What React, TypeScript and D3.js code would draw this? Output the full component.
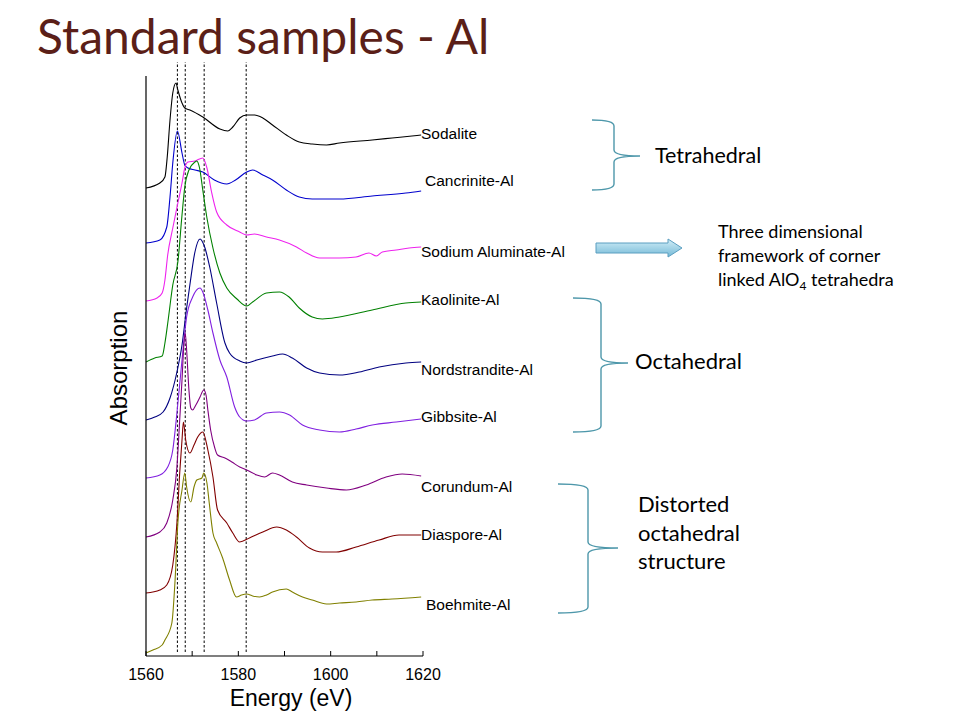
import * as d3 from "d3";

const W = 960;
const H = 720;

// energy axis (eV)
const energyDomain: [number, number] = [1560, 1620];
const energyTicks = [1560, 1570, 1580, 1590, 1600, 1610, 1620];
const energyLabels = [1560, 1580, 1600, 1620];
// dashed reference energies
const refEnergies = [1566.8, 1568.5, 1572.6, 1581.7];
const refExtent: [number, number] = [0.08, 11.88];

// normalised absorption, relative to each spectrum's pre-edge
const sodalite: [number, number][] = [
  [1560, 0], [1563.0, 0.1], [1564.1, 0.22], [1564.6, 0.62], [1565.2, 1.36], [1565.8, 1.9],
  [1566.5, 2.1], [1566.9, 1.96], [1567.8, 1.7], [1568.4, 1.6], [1569.5, 1.56], [1572.3, 1.42],
  [1576.0, 1.18], [1577.7, 1.14], [1578.8, 1.22], [1580.3, 1.4], [1581.8, 1.46], [1583.5, 1.46],
  [1585.3, 1.4], [1587.4, 1.26], [1590.4, 1.06], [1593.2, 0.92], [1596.0, 0.88], [1599.1, 0.86],
  [1601.9, 0.9], [1609.0, 0.96], [1613.3, 1.0], [1617.6, 1.04], [1619.6, 1.06],
];
const cancrinite: [number, number][] = [
  [1560, 0], [1563.0, 0.06], [1564.5, 0.32], [1565.2, 0.92], [1565.8, 1.6], [1566.8, 2.24],
  [1567.8, 1.8], [1568.4, 1.56], [1569.1, 1.5], [1570.6, 1.46], [1572.3, 1.42], [1574.8, 1.26],
  [1577.5, 1.18], [1579.4, 1.26], [1581.8, 1.42], [1583.1, 1.46], [1585.3, 1.36], [1587.4, 1.26],
  [1590.4, 1.06], [1593.2, 0.92], [1596.0, 0.88], [1601.9, 0.88], [1609.0, 0.94], [1616.3, 1.0],
  [1619.6, 1.04],
];
const sodiumAluminate: [number, number][] = [
  [1560, 0], [1562.4, 0.06], [1563.5, 0.16], [1564.1, 0.42], [1564.7, 0.92], [1565.8, 1.46],
  [1566.9, 1.96], [1567.8, 2.36], [1568.4, 2.66], [1569.1, 2.78], [1570.6, 2.8], [1572.3, 2.86],
  [1573.2, 2.66], [1574.2, 2.18], [1575.3, 1.78], [1577.5, 1.52], [1580.3, 1.38], [1581.8, 1.32],
  [1583.5, 1.34], [1586.1, 1.28], [1588.9, 1.22], [1592.6, 1.08], [1594.8, 0.96], [1597.6, 0.86],
  [1601.9, 0.86], [1605.5, 0.88], [1608.3, 0.96], [1609.9, 0.9], [1611.2, 0.98], [1614.2, 1.02],
  [1617.0, 1.06], [1619.6, 1.08],
];
const kaolinite: [number, number][] = [
  [1560, 0], [1561.9, 0.08], [1563.5, 0.12], [1564.1, 0.38], [1564.8, 0.84], [1565.8, 1.54],
  [1566.9, 2.0], [1567.8, 2.94], [1568.4, 3.5], [1569.3, 3.84], [1570.6, 4.0], [1571.0, 4.02],
  [1571.6, 3.88], [1572.3, 3.44], [1573.2, 2.88], [1574.5, 2.28], [1576.0, 1.78], [1577.5, 1.48],
  [1579.7, 1.26], [1581.8, 1.12], [1583.1, 1.2], [1586.1, 1.38], [1588.9, 1.4], [1591.0, 1.3],
  [1593.2, 1.08], [1596.0, 0.9], [1598.2, 0.86], [1601.9, 0.9], [1609.0, 1.04], [1616.3, 1.18],
  [1619.6, 1.2],
];
const nordstrandite: [number, number][] = [
  [1560, 0], [1561.9, 0.06], [1563.7, 0.16], [1565.2, 0.44], [1566.7, 0.96], [1567.8, 1.5],
  [1568.8, 2.24], [1569.5, 2.7], [1570.6, 3.36], [1571.7, 3.62], [1572.7, 3.46], [1573.8, 3.06],
  [1575.3, 2.34], [1577.1, 1.54], [1578.1, 1.34], [1580.3, 1.18], [1581.8, 1.14], [1584.0, 1.2],
  [1587.4, 1.28], [1589.6, 1.32], [1591.7, 1.24], [1594.8, 1.04], [1597.6, 0.94], [1601.9, 0.9],
  [1606.2, 0.96], [1610.5, 1.06], [1616.3, 1.14], [1619.6, 1.16],
];
const gibbsite: [number, number][] = [
  [1560, 0], [1563.0, 0.06], [1564.7, 0.22], [1565.8, 0.56], [1566.7, 1.3], [1567.8, 2.36],
  [1568.8, 3.22], [1570.1, 3.62], [1571.7, 3.8], [1572.3, 3.72], [1573.4, 3.36], [1574.5, 2.9],
  [1576.0, 2.36], [1577.5, 2.02], [1579.2, 1.42], [1580.3, 1.22], [1581.8, 1.14], [1583.5, 1.16],
  [1586.1, 1.3], [1588.9, 1.32], [1591.1, 1.26], [1593.9, 1.06], [1597.6, 0.96], [1601.9, 0.92],
  [1605.5, 0.98], [1609.0, 1.06], [1614.2, 1.12], [1619.6, 1.18],
];
const corundum: [number, number][] = [
  [1560, 0], [1563.0, 0.1], [1564.5, 0.28], [1565.8, 0.74], [1566.7, 1.4], [1567.3, 2.34],
  [1567.8, 3.14], [1568.2, 3.84], [1568.5, 4.08], [1568.8, 3.74], [1569.3, 2.94], [1569.7, 2.58],
  [1570.1, 2.54], [1570.8, 2.64], [1571.7, 2.8], [1572.5, 2.94], [1573.0, 2.84], [1573.4, 2.54],
  [1574.0, 2.14], [1574.9, 1.78], [1575.5, 1.64], [1577.1, 1.58], [1578.6, 1.5], [1580.3, 1.4],
  [1581.8, 1.34], [1584.0, 1.24], [1585.7, 1.2], [1587.4, 1.28], [1588.9, 1.24], [1591.7, 1.1],
  [1594.8, 1.04], [1599.1, 0.98], [1603.4, 0.94], [1607.7, 1.04], [1612.0, 1.2], [1615.5, 1.26],
  [1619.6, 1.22],
];
const diaspore: [number, number][] = [
  [1560, 0], [1563.0, 0.06], [1564.5, 0.16], [1565.8, 0.56], [1566.7, 1.4], [1567.3, 2.4],
  [1567.8, 3.06], [1568.1, 3.42], [1568.6, 3.06], [1569.5, 2.8], [1570.4, 2.96], [1571.2, 3.12],
  [1572.3, 3.22], [1573.4, 2.86], [1574.5, 2.32], [1575.5, 1.66], [1577.5, 1.4], [1578.8, 1.2],
  [1580.3, 1.02], [1582.4, 1.1], [1585.3, 1.22], [1588.3, 1.32], [1590.4, 1.26], [1592.6, 1.12],
  [1595.4, 0.9], [1598.2, 0.82], [1601.2, 0.82], [1605.5, 0.92], [1610.5, 1.06], [1614.8, 1.16],
  [1619.6, 1.16],
];
const boehmite: [number, number][] = [
  [1560, 0], [1561.5, 0.06], [1563.5, 0.16], [1564.1, 0.26], [1565.6, 0.6], [1566.3, 1.46],
  [1566.9, 2.6], [1567.8, 3.26], [1568.4, 3.6], [1568.8, 3.32], [1569.7, 3.02], [1570.4, 3.32],
  [1571.0, 3.46], [1572.1, 3.5], [1572.5, 3.6], [1573.2, 3.4], [1573.7, 3.0], [1574.5, 2.4],
  [1575.3, 2.2], [1576.6, 1.9], [1578.1, 1.46], [1579.6, 1.12], [1580.7, 1.16], [1581.8, 1.18],
  [1583.1, 1.14], [1584.6, 1.12], [1586.1, 1.16], [1587.4, 1.22], [1590.4, 1.28], [1591.7, 1.22],
  [1593.9, 1.12], [1596.0, 1.06], [1599.1, 0.98], [1601.9, 1.0], [1605.5, 1.02], [1609.0, 1.06],
  [1613.3, 1.08], [1619.6, 1.12],
];

const spectra = [sodalite, cancrinite, sodiumAluminate, kaolinite, nordstrandite, gibbsite, corundum, diaspore, boehmite];
const names = [
  "Sodalite", "Cancrinite-Al", "Sodium Aluminate-Al", "Kaolinite-Al", "Nordstrandite-Al",
  "Gibbsite-Al", "Corundum-Al", "Diaspore-Al", "Boehmite-Al",
];
const colors = ["#000000", "#0000cd", "#ee22ee", "#008000", "#000080", "#8020e0", "#800080", "#800000", "#808000"];
// vertical stacking offsets
const offsets = [9.36, 8.26, 7.1, 5.88, 4.72, 3.56, 2.38, 1.26, 0.06];
// label nudges (px) from each curve's last point
const labelDx = [-2, 2, -2, -2, -2, -2, -2, -2, 3];
const labelDy = [4, -5, 10, 3, 13, 3, 16, 5, 13];

const bracketColor = "#4d97aa";

function brace(x0: number, xv: number, top: number, bottom: number, mid: number, tip: number) {
  const r = 6;
  return `M${x0},${top} Q${xv},${top} ${xv},${top + r} L${xv},${mid - r} Q${xv},${mid} ${tip},${mid}` +
    ` Q${xv},${mid} ${xv},${mid + r} L${xv},${bottom - r} Q${xv},${bottom} ${x0},${bottom}`;
}

export default function App() {
  const x = d3.scaleLinear().domain(energyDomain).range([146, 423]);
  const y = d3.scaleLinear().domain([0, 11.6]).range([656, 76]);
  const line = d3
    .line<[number, number]>()
    .x((d) => x(d[0]))
    .y((d) => y(d[1]))
    .curve(d3.curveMonotoneX);

  const sans = "'Liberation Sans', Arial, sans-serif";
  const gill = "Lato, 'Open Sans', sans-serif";

  return (
    <div style={{ position: "absolute", left: 0, top: 0 }}>
      <svg width={W} height={H} style={{ display: "block", background: "#fff" }}>
        <defs>
          <linearGradient id="arrowFill" x1="0" y1="0" x2="0" y2="1">
            <stop offset="0%" stopColor="#d2eef8" />
            <stop offset="100%" stopColor="#74b9d6" />
          </linearGradient>
        </defs>

        <text x={37} y={54} fontFamily={gill} fontSize={48} fill="#5b1f18">
          Standard samples - Al
        </text>

        {/* reference lines */}
        {refEnergies.map((e) => (
          <line
            key={e}
            x1={x(e)}
            x2={x(e)}
            y1={y(refExtent[0])}
            y2={y(refExtent[1])}
            stroke="#000"
            strokeWidth={1}
            strokeDasharray="2.5,2"
          />
        ))}

        {/* spectra */}
        {spectra.map((s, i) => {
          const pts = s.map((d) => [d[0], d[1] + offsets[i]] as [number, number]);
          const last = pts[pts.length - 1];
          return (
            <g key={names[i]}>
              <path d={line(pts) || ""} fill="none" stroke={colors[i]} strokeWidth={1.1} />
              <text
                x={x(energyDomain[1]) + labelDx[i]}
                y={y(last[1]) + labelDy[i]}
                fontFamily={sans}
                fontSize={15.5}
                fill="#000"
              >
                {names[i]}
              </text>
            </g>
          );
        })}

        {/* axes */}
        <line x1={x(energyDomain[0])} x2={x(energyDomain[0])} y1={y(0)} y2={y(11.6)} stroke="#000" strokeWidth={1.2} />
        <line x1={x(energyDomain[0])} x2={x(energyDomain[1])} y1={y(0)} y2={y(0)} stroke="#000" strokeWidth={1.2} />
        {energyTicks.map((t) => (
          <line key={t} x1={x(t)} x2={x(t)} y1={y(0)} y2={y(0) - 5} stroke="#000" strokeWidth={1} />
        ))}
        {energyLabels.map((t) => (
          <text key={t} x={x(t)} y={680} textAnchor="middle" fontFamily={sans} fontSize={16} fill="#000">
            {t}
          </text>
        ))}
        <text x={291} y={706} textAnchor="middle" fontFamily={sans} fontSize={23} fill="#000">
          Energy (eV)
        </text>
        <text
          transform="translate(127,368) rotate(-90)"
          textAnchor="middle"
          fontFamily={sans}
          fontSize={24}
          fill="#000"
        >
          Absorption
        </text>

        {/* annotations */}
        <path d={brace(592, 614, 120, 190, 156, 640)} fill="none" stroke={bracketColor} strokeWidth={1.4} />
        <text x={655} y={163} fontFamily={gill} fontSize={21.5} fill="#000">Tetrahedral</text>

        <path
          d="M596,243 L668,243 L668,239 L682,248 L668,257 L668,253 L596,253 Z"
          fill="url(#arrowFill)"
          stroke="#5b9ec0"
          strokeWidth={1}
        />
        <text x={718} y={238} fontFamily={gill} fontSize={18} fill="#000">Three dimensional</text>
        <text x={718} y={262} fontFamily={gill} fontSize={18} fill="#000">framework of corner</text>
        <text x={718} y={286} fontFamily={gill} fontSize={18} fill="#000">
          linked AlO<tspan fontSize={12} dy={4}>4</tspan>
          <tspan dy={-4}> tetrahedra</tspan>
        </text>

        <path d={brace(573, 601, 298, 432, 363, 628)} fill="none" stroke={bracketColor} strokeWidth={1.4} />
        <text x={635} y={369} fontFamily={gill} fontSize={22} fill="#000">Octahedral</text>

        <path d={brace(558, 588, 484, 613, 548, 618)} fill="none" stroke={bracketColor} strokeWidth={1.4} />
        <text x={638} y={512} fontFamily={gill} fontSize={22} fill="#000">Distorted</text>
        <text x={638} y={541} fontFamily={gill} fontSize={22} fill="#000">octahedral</text>
        <text x={638} y={569} fontFamily={gill} fontSize={22} fill="#000">structure</text>
      </svg>
    </div>
  );
}
